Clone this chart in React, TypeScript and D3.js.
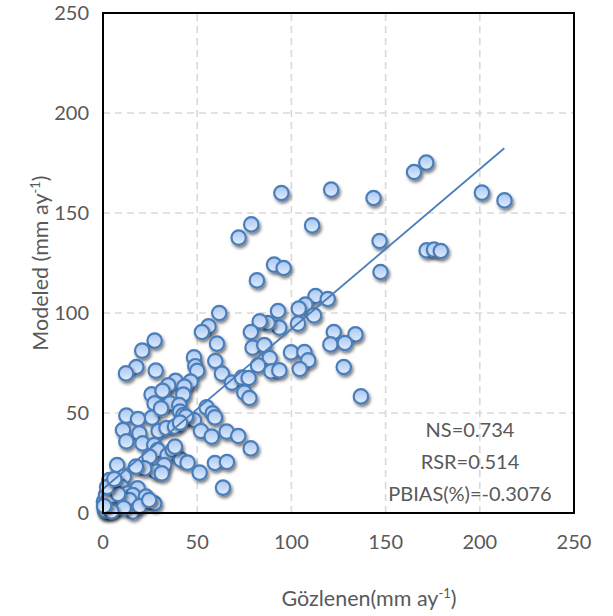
import React from 'react';
import * as d3 from 'd3';

// observed (x) and modeled (y) values, mm/month
const observed = [
  171.6, 165.1, 201.1, 213.1, 121.1, 143.6, 94.7, 78.7, 72, 111,
  146.8, 171.8, 175.7, 179.3, 90.8, 95.9, 81.7, 147.3, 112.8, 119.3,
  107.4, 103.9, 112, 103.5, 92.9, 93.6, 87.4, 83.2, 78.5, 61.7,
  56, 52.5, 60.5, 79.4, 85.6, 88.5, 82.3, 89.4, 93.6, 59.6,
  63.1, 68.4, 73.8, 77.3, 75, 77.7, 99.8, 106.9, 108.9, 104.4,
  122.5, 134, 120.7, 128.4, 127.8, 136.9,
  27.4, 20.8, 17.7, 12.2, 28, 48.3, 49, 50, 38.5, 34.6,
  46.5, 43.2, 25.8, 31.6, 42.6, 35.6, 27.4, 40.5, 40.9, 42.6,
  55, 58.2, 59.4, 48.3, 52, 57.7, 65.6, 71.8, 78.4, 12.4,
  18.6, 26, 30.8, 44, 10.6, 19.3, 29.5, 33.7, 38.2, 40.9,
  12.4, 21, 27.2, 29, 34.3, 37, 24.6, 41.4, 44.9, 32.5,
  28.1, 21.9, 17.5, 7.5, 11.1, 51.3, 59.4, 65.8, 63.7, 31.2,
  38.2,
  4.2, 6.9, 3.4, 9.6, 13.1, 18.4, 15.8, 9.6, 14, 2.5,
  6.9, 15.8, 22.8, 27.2, 1.6, 0.5, 1.6, 3.4, 0.8, 3,
  5, 8, 11, 19.5, 24.5, 2.2, 6, 1.2, 4.5, 0.6,
];
const modeled = [
  175.2, 170.5, 160.2, 156.3, 161.7, 157.5, 160, 144.3, 137.7, 143.8,
  136, 131.3, 131.7, 131, 124.2, 122.5, 116.3, 120.5, 108.5, 107,
  104.2, 102.2, 98.8, 94.7, 101, 92.7, 95, 95.8, 90.5, 100,
  93.3, 90.5, 84.7, 82.7, 84, 77.5, 73.8, 70.8, 71.3, 76,
  69.7, 65.2, 67.7, 67.5, 60.2, 57.5, 80.3, 80.5, 76.3, 72,
  90.5, 89.3, 84.3, 85, 73, 58.3,
  86.2, 81.2, 73, 69.8, 71.2, 77.8, 73.4, 71.1, 66.1, 63.8,
  65.7, 63.2, 59.3, 61.1, 59.2, 54.8, 54.8, 54, 50.7, 49,
  52.8, 49.8, 47.8, 46.5, 41, 38.2, 40.7, 38.5, 32.3, 48.7,
  47, 47.7, 52.3, 48.2, 41.5, 39.8, 41, 42.5, 43.2, 45.2,
  35.8, 34.8, 34, 31.5, 29, 31.5, 28.2, 26.7, 25.2, 24,
  20.7, 22.3, 23.2, 24, 18.2, 20.2, 25, 25.5, 12.7, 19.8,
  33.2,
  14.8, 12.3, 10.7, 13.2, 9.8, 12.3, 9, 7.3, 6.5, 4,
  3.2, 0.7, 8.2, 4.8, 0.7, 5.7, 9, 16.5, 2.5, 7,
  1.5, 9.5, 2.5, 3.5, 6.5, 13, 17, 1.2, 0.8, 3.5,
];

const xTicks = [0, 50, 100, 150, 200, 250];
const yTicks = [0, 50, 100, 150, 200, 250];
const stats = ['NS=0.734', 'RSR=0.514', 'PBIAS(%)=-0.3076'];

// linear trendline
const trendFrom = 0;
const trendTo = 213;
const trendSlope = 0.8;
const trendIntercept = 12;

const W = 613;
const H = 616;
const margin = { top: 13, right: 39, bottom: 103, left: 103 };
const font = "Lato, 'Open Sans', sans-serif";
const textColor = '#595959';

export default function App() {
  const x = d3.scaleLinear().domain([0, 250]).range([margin.left, W - margin.right]);
  const y = d3.scaleLinear().domain([0, 250]).range([H - margin.bottom, margin.top]);

  const points = observed.map((o, i) => ({ o, m: modeled[i] }));
  const trend = d3.line<number>()
    .x(d => x(d))
    .y(d => y(trendIntercept + trendSlope * d));

  const statsX = 470;
  const statsY = [430, 462, 494];

  return (
    <svg
      width={W}
      height={H}
      style={{ position: 'absolute', left: 0, top: 0, background: '#fff' }}
      fontFamily={font}
    >
      <defs>
        <linearGradient id="mk" x1="0" y1="0" x2="0" y2="1">
          <stop offset="0%" stopColor="#a8c6f1" />
          <stop offset="100%" stopColor="#e2edfc" />
        </linearGradient>
        <filter id="sh" x="-50%" y="-50%" width="200%" height="200%">
          <feDropShadow dx="1.5" dy="2.5" stdDeviation="1.6" floodColor="#000" floodOpacity="0.5" />
        </filter>
      </defs>

      {/* grid */}
      <g stroke="#d9d9d9" strokeWidth={1.6} strokeDasharray="7,5">
        {xTicks.slice(1, -1).map(t => (
          <line key={'gx' + t} x1={x(t)} x2={x(t)} y1={y(0)} y2={y(250)} />
        ))}
        {yTicks.slice(1, -1).map(t => (
          <line key={'gy' + t} x1={x(0)} x2={x(250)} y1={y(t)} y2={y(t)} />
        ))}
      </g>

      {/* tick labels */}
      <g fill={textColor} fontSize={20}>
        {xTicks.map(t => (
          <text key={'tx' + t} x={x(t)} y={549} textAnchor="middle">{t}</text>
        ))}
        {yTicks.map(t => (
          <text key={'ty' + t} x={89} y={y(t) + 7} textAnchor="end">{t}</text>
        ))}
      </g>

      {/* points */}
      <g>
        {points.map((p, i) => (
          <circle
            key={i}
            cx={x(p.o)}
            cy={y(p.m)}
            r={7.2}
            fill="url(#mk)"
            stroke="#4a7ebb"
            strokeWidth={2.2}
            filter="url(#sh)"
          />
        ))}
      </g>

      {/* trendline */}
      <path d={trend([trendFrom, trendTo]) || ''} fill="none" stroke="#4a7ebb" strokeWidth={1.8} />

      {/* plot border */}
      <rect
        x={x(0)}
        y={y(250)}
        width={x(250) - x(0)}
        height={y(0) - y(250)}
        fill="none"
        stroke="#000"
        strokeWidth={2}
      />

      {/* stats */}
      <g fill={textColor} fontSize={20} textAnchor="middle">
        {stats.map((s, i) => (
          <text key={s} x={statsX} y={statsY[i] + 7}>{s}</text>
        ))}
      </g>

      {/* axis titles */}
      <text x={369} y={606} fill={textColor} fontSize={21.5} textAnchor="middle">
        Gözlenen(mm ay<tspan dy={-8} fontSize={13}>-1</tspan><tspan dy={8}>)</tspan>
      </text>
      <text
        transform="translate(48,263) rotate(-90)"
        fill={textColor}
        fontSize={21.5}
        textAnchor="middle"
      >
        Modeled (mm ay<tspan dy={-8} fontSize={13}>-1</tspan><tspan dy={8}>)</tspan>
      </text>
    </svg>
  );
}
